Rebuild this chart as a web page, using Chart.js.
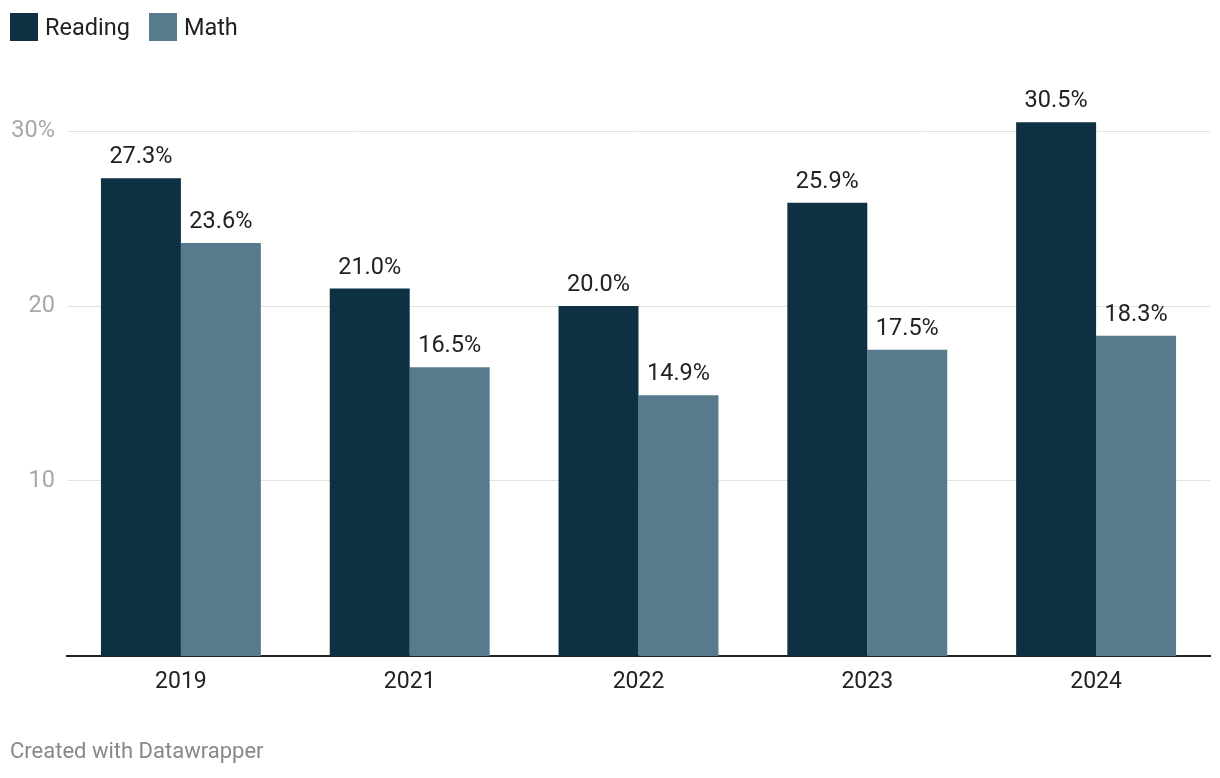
<!DOCTYPE html>
<html>
<head>
<meta charset="utf-8">
<script src="https://cdn.jsdelivr.net/npm/chart.js@4"></script>
<style>
  html, body { margin: 0; padding: 0; background: #fff; font-family: Roboto, sans-serif; }
  #wrap { position: relative; width: 1220px; height: 778px; }
  #chart { position: absolute; left: 0; top: 0; }
  .legend { position: absolute; left: 10px; top: 13px; height: 28px; display: flex; align-items: center; font-size: 23.5px; color: #222; }
  .legend .item { display: flex; align-items: center; margin-right: 19px; }
  .legend .sw { width: 28px; height: 28px; margin-right: 7px; }
  .footer { position: absolute; left: 10px; top: 738px; font-size: 22px; color: #888; }
</style>
</head>
<body>
<div id="wrap">
  <canvas id="chart" width="1220" height="778"></canvas>
  <div class="legend" id="legend"></div>
  <div class="footer">Created with Datawrapper</div>
</div>
<script>
const categories = ["2019", "2021", "2022", "2023", "2024"];
const seriesNames = ["Reading", "Math"];
const readingValues = [27.3, 21.0, 20.0, 25.9, 30.5];
const mathValues = [23.6, 16.5, 14.9, 17.5, 18.3];
const yTickValues = [10, 20, 30];
const colors = ["#0d3042", "#577a8c"];

const legend = document.getElementById('legend');
seriesNames.forEach((n, i) => {
  const it = document.createElement('div');
  it.className = 'item';
  it.innerHTML = '<span class="sw" style="background:' + colors[i] + '"></span><span>' + n + '</span>';
  legend.appendChild(it);
});

const valueLabels = {
  id: 'valueLabels',
  afterDatasetsDraw(chart) {
    const ctx = chart.ctx;
    ctx.save();
    ctx.font = '23.5px Roboto';
    ctx.fillStyle = '#222';
    ctx.textAlign = 'center';
    ctx.textBaseline = 'alphabetic';
    chart.data.datasets.forEach((ds, di) => {
      chart.getDatasetMeta(di).data.forEach((bar, i) => {
        ctx.fillText(ds.data[i].toFixed(1) + '%', bar.x, bar.y - 15);
      });
    });
    ctx.restore();
  }
};

const yLabels = {
  id: 'yLabels',
  afterDraw(chart) {
    const ctx = chart.ctx;
    const s = chart.scales.y;
    ctx.save();
    ctx.font = '23.5px Roboto';
    ctx.fillStyle = '#a8a8a8';
    ctx.textBaseline = 'middle';
    ctx.textAlign = 'right';
    const top = Math.max(...yTickValues);
    yTickValues.forEach(v => {
      const y = s.getPixelForValue(v);
      ctx.fillText(String(v) + (v === top ? '%' : ''), 55, y);
    });
    ctx.restore();
  }
};

new Chart(document.getElementById('chart'), {
  type: 'bar',
  data: {
    labels: categories,
    datasets: [
      { label: seriesNames[0], data: readingValues, backgroundColor: colors[0] },
      { label: seriesNames[1], data: mathValues, backgroundColor: colors[1] }
    ]
  },
  options: {
    responsive: false,
    animation: false,
    events: [],
    layout: { padding: { left: 10, right: 9.5, top: 61, bottom: 72 } },
    plugins: { legend: { display: false }, tooltip: { enabled: false } },
    datasets: { bar: { categoryPercentage: 0.699, barPercentage: 1.0 } },
    scales: {
      x: {
        grid: { display: false, drawTicks: false },
        border: { display: true, color: '#222', width: 2 },
        ticks: { color: '#222', font: { family: 'Roboto', size: 23 }, padding: 12 },
        afterFit(s) { s.height = 50; }
      },
      y: {
        min: 0, max: 34,
        afterBuildTicks(s) { s.ticks = yTickValues.map(v => ({ value: v })); },
        grid: { color: '#e2e2e2', lineWidth: 1, drawTicks: false },
        border: { display: false },
        ticks: { display: false },
        afterFit(s) { s.width = 56.5; }
      }
    }
  },
  plugins: [valueLabels, yLabels]
});
</script>
</body>
</html>
